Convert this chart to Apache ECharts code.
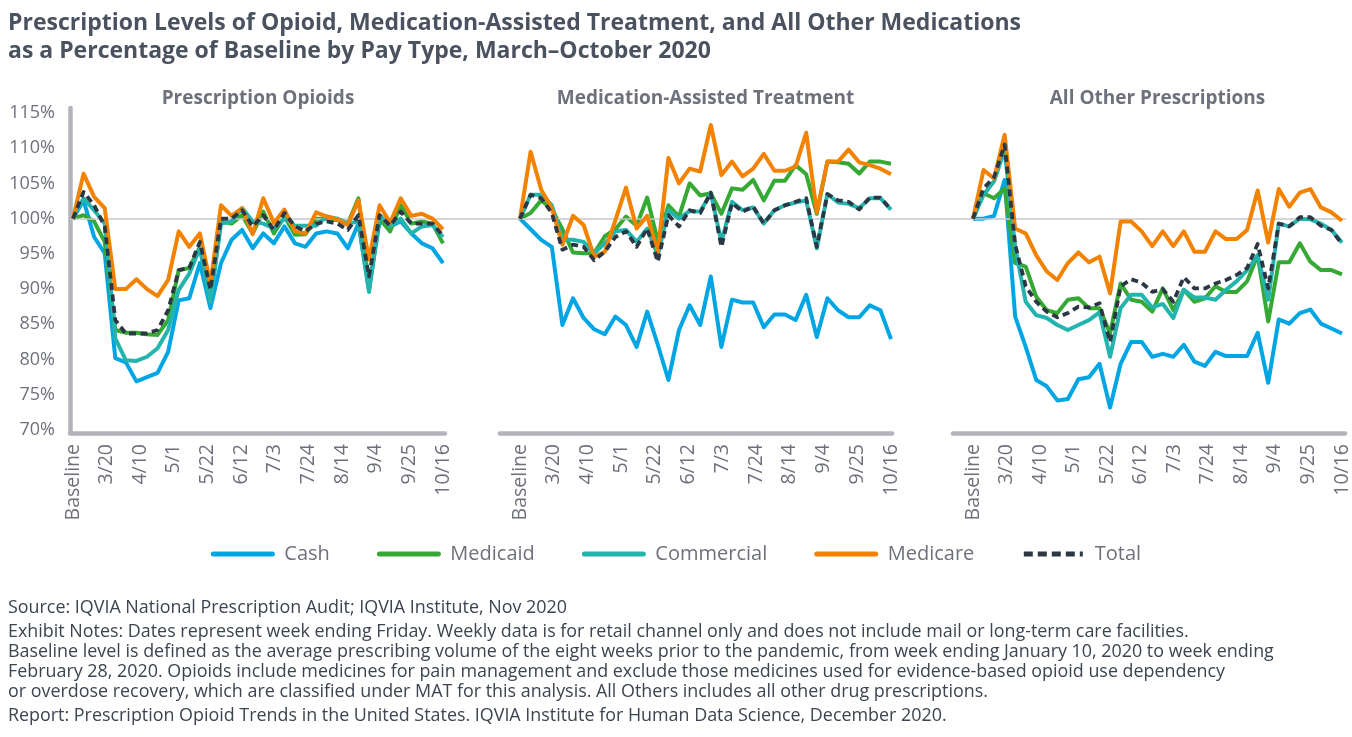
<!DOCTYPE html>
<html><head><meta charset="utf-8">
<script src="https://cdn.jsdelivr.net/npm/echarts@6/dist/echarts.min.js"></script>
<style>html,body{margin:0;padding:0;background:#fff}#c{width:1352px;height:737px}</style>
</head><body><div id="c"></div>
<script>
// Categories: baseline + week ending dates (Friday)
const weeks = ['Baseline','3/6','3/13','3/20','3/27','4/3','4/10','4/17','4/24','5/1','5/8','5/15','5/22','5/29','6/5','6/12','6/19','6/26','7/3','7/10','7/17','7/24','7/31','8/7','8/14','8/21','8/28','9/4','9/11','9/18','9/25','10/2','10/9','10/16','10/23','10/30'];
// Tick labels as printed under each panel
const tickLabels = ['Baseline','3/20','4/10','5/1','5/22','6/12','7/3','7/24','8/14','9/4','9/25','10/16'];

// Prescription Opioids (% of baseline)
const opioidCash       = [100,102.6,97.4,95.1,80.2,79.6,76.9,77.5,78.1,81.1,88.4,88.7,93.7,87.3,93.7,97.0,98.4,95.8,97.9,96.5,98.9,96.5,96.0,97.9,98.2,97.9,95.8,99.3,89.9,99.6,98.9,99.6,97.9,96.5,95.8,93.7];
const opioidMedicaid   = [100,100.5,99.6,96.7,84.2,83.8,83.8,83.6,83.5,85.6,92.7,93.0,96.0,88.7,99.6,99.3,100.5,97.9,101.0,97.9,100.3,97.7,97.8,100,100,99.8,99.3,102.9,90.4,100,98.2,101.9,99.3,99.6,99.3,96.5];
const opioidCommercial = [100,102.9,101.2,99.3,83.0,79.9,79.8,80.4,81.6,84.2,89.9,92.2,95.8,88.2,99.3,99.6,101.5,99.6,99.3,98.6,100,99.0,99.0,99.0,100.3,100,99.3,99.6,89.6,100.5,98.9,100,97.9,98.9,99.1,97.4];
const opioidMedicare   = [100,106.4,103.1,101.5,90.0,90.0,91.4,90.0,89.0,91.3,98.2,96.0,97.9,90.8,101.9,100.4,101.5,97.8,102.9,99.4,101.3,98.2,97.9,100.9,100.3,99.9,99.1,102.6,94.2,101.9,99.4,102.9,100.4,100.7,100.0,98.5];
const opioidTotal      = [100,103.8,101.9,98.9,85.6,83.7,83.7,83.7,84.2,87.0,92.7,93.0,96.7,89.9,100.0,100.0,101.2,98.9,100.5,98.4,100.8,98.9,98.2,99.3,99.6,99.3,98.4,100.5,91.8,100.5,99.0,101.0,99.3,99.3,99.3,97.6];

// Medication-Assisted Treatment (% of baseline)
const matCash       = [100,98.5,97.0,96.0,84.9,88.7,85.9,84.3,83.6,86.1,84.9,81.8,86.8,82.1,77.1,84.2,87.7,84.9,91.8,81.8,88.5,88.1,88.1,84.6,86.4,86.4,85.6,89.2,83.2,88.7,87.0,86.0,86.0,87.7,87.0,82.9];
const matMedicaid   = [100,100.8,102.6,101.4,98.5,95.2,95.1,95.1,97.5,98.5,100.3,99.0,103.0,96.8,101.9,100.3,105.0,103.3,103.6,100.7,104.3,104.1,105.5,102.6,105.4,105.4,107.6,106.3,100.7,108.1,108.0,107.8,106.4,108.1,108.1,107.8];
const matCommercial = [100,103.4,103.4,101.9,97.0,97.0,96.7,95.1,96.5,98.2,98.4,96.7,98.6,94.8,101.2,100.0,101.1,101.0,103.6,96.7,102.4,101.2,101.6,99.3,101.2,101.9,102.3,102.6,95.8,103.5,102.3,102.1,101.5,102.9,102.9,101.3];
const matMedicare   = [100,109.5,104.1,101.5,96.3,100.4,99.1,94.6,95.3,99.8,104.4,98.6,100.4,95.3,108.6,105.0,107.1,106.7,113.3,106.2,108.1,106.0,107.1,109.2,106.8,106.8,107.4,112.2,100.9,108.1,108.1,109.8,108.0,107.6,107.1,106.3];
const matTotal      = [100,103.4,102.9,100.8,95.6,96.3,96.0,94.1,95.3,97.4,98.2,96.0,98.6,93.9,100.5,98.9,101.2,100.8,103.7,96.0,102.2,101.0,101.7,99.3,101.2,101.9,102.4,102.9,96.0,103.5,102.6,102.4,101.3,103.0,103.0,101.3];

// All Other Prescriptions (% of baseline)
const otherCash       = [100,100.0,100.4,105.5,86.1,81.8,77.1,76.2,74.2,74.4,77.2,77.5,79.4,73.2,79.4,82.5,82.5,80.4,80.8,80.4,82.1,79.7,79.1,81.1,80.5,80.5,80.5,83.8,76.7,85.7,85.1,86.6,87.1,85.1,84.4,83.7];
const otherMedicaid   = [100,103.6,102.9,104.3,93.7,93.2,88.9,87.0,86.6,88.5,88.7,87.3,87.3,83.7,90.8,88.5,88.2,86.8,90.1,87.0,89.9,88.2,88.7,90.4,89.6,89.6,91.1,94.8,85.4,93.8,93.8,96.5,93.9,92.7,92.7,92.1];
const otherCommercial = [100,103.4,105.3,109.8,96.0,88.2,86.3,85.9,84.9,84.2,84.9,85.6,86.7,80.4,87.3,89.2,89.2,87.4,87.9,85.9,89.9,88.8,88.8,88.5,89.9,91.1,92.7,94.8,88.5,99.3,98.9,100.0,99.9,99.3,98.4,96.6];
const otherMedicare   = [100,106.9,105.7,111.9,98.6,97.9,94.8,92.5,91.3,93.7,95.2,93.8,94.6,89.4,99.6,99.6,98.2,96.1,98.2,96.1,98.2,95.3,95.3,98.2,97.1,97.1,98.4,104.0,96.6,104.2,101.7,103.7,104.2,101.6,100.9,99.7];
const otherTotal      = [100,104.3,105.9,110.5,96.3,90.4,88.2,86.8,86.0,86.6,87.5,87.4,88.0,82.5,90.4,91.4,90.9,89.6,90.0,88.2,91.7,90.1,90.1,90.8,91.3,92.0,93.0,96.4,90.1,99.3,98.9,100.2,100.2,99.0,98.4,96.4];

const payTypes = ['Cash','Medicaid','Commercial','Medicare','Total'];
const panelTitles = ['Prescription Opioids','Medication-Assisted Treatment','All Other Prescriptions'];
const panelData = [
  [opioidCash, opioidMedicaid, opioidCommercial, opioidMedicare, opioidTotal],
  [matCash, matMedicaid, matCommercial, matMedicare, matTotal],
  [otherCash, otherMedicaid, otherCommercial, otherMedicare, otherTotal]
];

const colors = {Cash:'#00a5e3', Medicaid:'#36a935', Commercial:'#23b5ad', Medicare:'#f28200', Total:'#2c3745'};
const FONT = '"Open Sans", "Noto Sans", sans-serif';
const gray = '#6e717b';
const noteColor = '#3c4450';
const frameColor = '#b3b3bc';

// layout (pixels)
const dataGrids = [ {left:73, width:370}, {left:520, width:371}, {left:973, width:369} ];
const frameGrids = [ {left:70, width:375}, {left:500, width:392}, {left:953, width:392} ];
const plotTop = 113, plotHeight = 317;

const grid = [];
const xAxis = [];
const yAxis = [];
const series = [];
const title = [];

dataGrids.forEach((g) => {
  grid.push({left:g.left, width:g.width, top:plotTop, height:plotHeight, containLabel:false});
});
frameGrids.forEach((g) => {
  grid.push({left:g.left, width:g.width, top:108, height:325, containLabel:false});
});
grid.push({left:70, width:1276, top:plotTop, height:plotHeight}); // reference line grid (index 6)

// data + label x axes
dataGrids.forEach((g, p) => {
  xAxis.push({type:'category', gridIndex:p, data:weeks, boundaryGap:false, show:false});
  xAxis.push({type:'category', gridIndex:p, data:tickLabels, boundaryGap:false, position:'bottom',
    axisLine:{show:false}, axisTick:{show:false}, splitLine:{show:false},
    axisLabel:{interval:0, rotate:90, margin:14, fontSize:19.5, color:gray, fontFamily:FONT}});
  yAxis.push({type:'value', gridIndex:p, min:70, max:115, interval:5, show:p===0,
    axisLine:{show:false}, axisTick:{show:false}, splitLine:{show:false},
    axisLabel:{formatter:'{value}%', fontSize:18, color:gray, margin:18, fontFamily:FONT}});
});
// frame axes
frameGrids.forEach((g, p) => {
  xAxis.push({type:'value', gridIndex:3+p, min:0, max:1, axisLabel:{show:false}, axisTick:{show:false}, splitLine:{show:false},
    axisLine:{show:true, onZero:false, lineStyle:{color:frameColor, width:4.5, cap:'round'}}});
  yAxis.push({type:'value', gridIndex:3+p, min:0, max:1, axisLabel:{show:false}, axisTick:{show:false}, splitLine:{show:false},
    axisLine:{show:p===0, onZero:false, lineStyle:{color:frameColor, width:4.5, cap:'round'}}});
});
// reference axes
xAxis.push({type:'value', gridIndex:6, min:0, max:1, show:false});
yAxis.push({type:'value', gridIndex:6, min:70, max:115, interval:5, show:false});

series.push({type:'line', name:'ref', xAxisIndex:9, yAxisIndex:6, data:[], silent:true, z:1,
  markLine:{silent:true, symbol:'none', label:{show:false}, lineStyle:{color:'#c6c6cd', width:1.5, type:'solid'},
    data:[{yAxis:100}]}});

panelData.forEach((arrs, p) => {
  payTypes.forEach((name, k) => {
    const isTotal = name === 'Total';
    series.push({type:'line', name, xAxisIndex:2*p, yAxisIndex:p, data:arrs[k],
      symbol:'none', showSymbol:false, z:3+k,
      lineStyle:{color:colors[name], width:isTotal?3.8:4, type:isTotal?[7,4.5]:'solid', join:'round'},
      itemStyle:{color:colors[name]}});
  });
  const g = dataGrids[p];
  title.push({text:panelTitles[p], left:g.left + g.width/2, top:89, textAlign:'center', padding:0,
    textStyle:{fontSize:19, fontWeight:'bold', color:gray, fontFamily:FONT}});
});

title.push({text:'Prescription Levels of Opioid, Medication-Assisted Treatment, and All Other Medications\nas a Percentage of Baseline by Pay Type, March–October 2020',
  left:8, top:9, padding:0, textStyle:{fontSize:23, fontWeight:'bold', color:'#4a5260', lineHeight:28, fontFamily:FONT}});
title.push({text:'Source: IQVIA National Prescription Audit; IQVIA Institute, Nov 2020',
  left:8, top:598, padding:0, textStyle:{fontSize:17.9, fontWeight:'normal', color:noteColor, lineHeight:20, fontFamily:FONT}});
title.push({text:'Exhibit Notes: Dates represent week ending Friday. Weekly data is for retail channel only and does not include mail or long-term care facilities.\nBaseline level is defined as the average prescribing volume of the eight weeks prior to the pandemic, from week ending January 10, 2020 to week ending\nFebruary 28, 2020. Opioids include medicines for pain management and exclude those medicines used for evidence-based opioid use dependency\nor overdose recovery, which are classified under MAT for this analysis. All Others includes all other drug prescriptions.',
  left:8, top:622, padding:0, textStyle:{fontSize:17.9, fontWeight:'normal', color:noteColor, lineHeight:20, fontFamily:FONT}});
title.push({text:'Report: Prescription Opioid Trends in the United States. IQVIA Institute for Human Data Science, December 2020.',
  left:8, top:706, padding:0, textStyle:{fontSize:17.9, fontWeight:'normal', color:noteColor, lineHeight:20, fontFamily:FONT}});

const legendData = payTypes.map(name => name === 'Total'
  ? {name, lineStyle:{width:5, cap:'butt', type:[9,5]}}
  : {name});

const chart = echarts.init(document.getElementById('c'), null, {renderer:'canvas'});
chart.setOption({
  animation:false,
  backgroundColor:'#ffffff',
  title,
  legend:{data:legendData, left:'center', top:539, itemWidth:59, itemHeight:5, itemGap:47,
    itemStyle:{color:'rgba(0,0,0,0)', borderWidth:0, opacity:0},
    textStyle:{fontSize:20, color:gray, fontFamily:FONT, padding:[0,0,0,7]},
    lineStyle:{width:5, cap:'round'}},
  grid, xAxis, yAxis, series
});
</script></body></html>
